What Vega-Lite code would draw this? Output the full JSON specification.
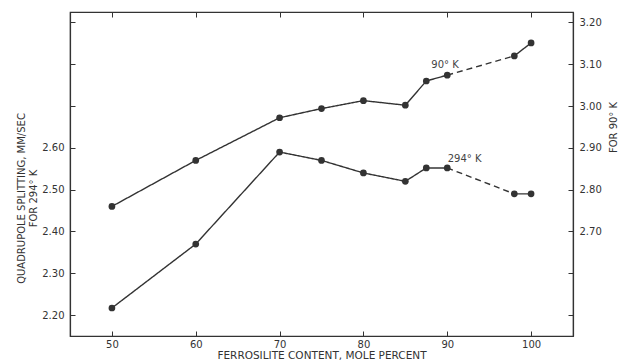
{
  "$schema": "https://vega.github.io/schema/vega-lite/v6.json",
  "width": 503,
  "height": 324,
  "autosize": "none",
  "padding": {"left": 70, "top": 12, "right": 48, "bottom": 28},
  "background": "white",
  "config": {
    "view": {"stroke": "#333", "strokeWidth": 1.2},
    "font": "DejaVu Sans",
    "axis": {
      "grid": false,
      "domainColor": "#333",
      "domainWidth": 1.2,
      "tickColor": "#333",
      "tickSize": -5,
      "tickWidth": 1,
      "labelFont": "DejaVu Sans",
      "labelFontSize": 10,
      "labelColor": "#333",
      "titleFont": "DejaVu Sans",
      "titleFontSize": 10,
      "titleFontWeight": "normal",
      "titleColor": "#333"
    }
  },
  "datasets": {
    "pts": [
      {"series": "294", "x": 50, "v": 2.217},
      {"series": "294", "x": 60, "v": 2.37},
      {"series": "294", "x": 70, "v": 2.59},
      {"series": "294", "x": 75, "v": 2.57},
      {"series": "294", "x": 80, "v": 2.54},
      {"series": "294", "x": 85, "v": 2.52},
      {"series": "294", "x": 87.5, "v": 2.552},
      {"series": "294", "x": 90, "v": 2.552},
      {"series": "294", "x": 98, "v": 2.49},
      {"series": "294", "x": 100, "v": 2.49},
      {"series": "90", "x": 50, "v": 2.76},
      {"series": "90", "x": 60, "v": 2.87},
      {"series": "90", "x": 70, "v": 2.972},
      {"series": "90", "x": 75, "v": 2.994},
      {"series": "90", "x": 80, "v": 3.013},
      {"series": "90", "x": 85, "v": 3.002},
      {"series": "90", "x": 87.5, "v": 3.06},
      {"series": "90", "x": 90, "v": 3.074},
      {"series": "90", "x": 98, "v": 3.12},
      {"series": "90", "x": 100, "v": 3.151}
    ],
    "segs": [
      {"series": "294", "seg": "a", "dash": "solid", "x": 50, "v": 2.217},
      {"series": "294", "seg": "a", "dash": "solid", "x": 60, "v": 2.37},
      {"series": "294", "seg": "a", "dash": "solid", "x": 70, "v": 2.59},
      {"series": "294", "seg": "a", "dash": "solid", "x": 75, "v": 2.57},
      {"series": "294", "seg": "a", "dash": "solid", "x": 80, "v": 2.54},
      {"series": "294", "seg": "a", "dash": "solid", "x": 85, "v": 2.52},
      {"series": "294", "seg": "a", "dash": "solid", "x": 87.5, "v": 2.552},
      {"series": "294", "seg": "a", "dash": "solid", "x": 90, "v": 2.552},
      {"series": "294", "seg": "b", "dash": "dashed", "x": 90, "v": 2.552},
      {"series": "294", "seg": "b", "dash": "dashed", "x": 98, "v": 2.49},
      {"series": "294", "seg": "c", "dash": "solid", "x": 98, "v": 2.49},
      {"series": "294", "seg": "c", "dash": "solid", "x": 100, "v": 2.49},
      {"series": "90", "seg": "a", "dash": "solid", "x": 50, "v": 2.76},
      {"series": "90", "seg": "a", "dash": "solid", "x": 60, "v": 2.87},
      {"series": "90", "seg": "a", "dash": "solid", "x": 70, "v": 2.972},
      {"series": "90", "seg": "a", "dash": "solid", "x": 75, "v": 2.994},
      {"series": "90", "seg": "a", "dash": "solid", "x": 80, "v": 3.013},
      {"series": "90", "seg": "a", "dash": "solid", "x": 85, "v": 3.002},
      {"series": "90", "seg": "a", "dash": "solid", "x": 87.5, "v": 3.06},
      {"series": "90", "seg": "a", "dash": "solid", "x": 90, "v": 3.074},
      {"series": "90", "seg": "b", "dash": "dashed", "x": 90, "v": 3.074},
      {"series": "90", "seg": "b", "dash": "dashed", "x": 98, "v": 3.12},
      {"series": "90", "seg": "c", "dash": "solid", "x": 98, "v": 3.12},
      {"series": "90", "seg": "c", "dash": "solid", "x": 100, "v": 3.151}
    ],
    "labels": [
      {"series": "294", "x": 90.05, "v": 2.574, "text": "294° K"},
      {"series": "90", "x": 88.1, "v": 3.099, "text": "90° K"}
    ]
  },
  "resolve": {"scale": {"y": "independent"}, "axis": {"x": "independent", "y": "independent"}},
  "layer": [
    {
      "encoding": {
        "x": {
          "field": "x", "type": "quantitative",
          "scale": {"domain": [45, 105], "nice": false, "zero": false},
          "axis": {"orient": "bottom", "values": [50, 60, 70, 80, 90, 100], "labelPadding": 8, "title": "FERROSILITE CONTENT, MOLE PERCENT", "titleFontSize": 10.5, "titlePadding": 1}
        },
        "y": {
          "field": "v", "type": "quantitative",
          "scale": {"domain": [2.15, 2.925], "nice": false, "zero": false},
          "axis": {
            "orient": "left",
            "values": [2.2, 2.3, 2.4, 2.5, 2.6, 2.7, 2.8, 2.9],
            "labelExpr": "datum.value < 2.65 ? format(datum.value, '.2f') : ''",
            "labelPadding": 11,
            "title": ["QUADRUPOLE SPLITTING, MM/SEC", "FOR 294° K"],
            "titleAngle": 270,
            "titleAlign": "center",
            "titleBaseline": "middle",
            "titleLineHeight": 12,
            "titleX": -49,
            "titleY": 186
          }
        }
      },
      "layer": [
        {
          "data": {"name": "segs"},
          "transform": [{"filter": "datum.series === '294'"}],
          "mark": {"type": "line", "color": "#333", "strokeWidth": 1.4},
          "encoding": {
            "detail": {"field": "seg"},
            "strokeDash": {"field": "dash", "type": "nominal", "scale": {"domain": ["solid", "dashed"], "range": [[1, 0], [6, 4]]}, "legend": null}
          }
        },
        {
          "data": {"name": "pts"},
          "transform": [{"filter": "datum.series === '294'"}],
          "mark": {"type": "circle", "size": 45, "color": "#333", "opacity": 1}
        },
        {
          "data": {"name": "labels"},
          "transform": [{"filter": "datum.series === '294'"}],
          "mark": {"type": "text", "align": "left", "baseline": "middle", "fontSize": 10, "color": "#444", "font": "DejaVu Sans"},
          "encoding": {"text": {"field": "text"}}
        }
      ]
    },
    {
      "encoding": {
        "x": {
          "field": "x", "type": "quantitative",
          "scale": {"domain": [45, 105], "nice": false, "zero": false},
          "axis": {"orient": "top", "values": [50, 60, 70, 80, 90, 100], "labels": false, "title": null}
        },
        "y": {
          "field": "v", "type": "quantitative",
          "scale": {"domain": [2.45, 3.225], "nice": false, "zero": false},
          "axis": {
            "orient": "right",
            "values": [2.5, 2.6, 2.7, 2.8, 2.9, 3.0, 3.1, 3.2],
            "labelExpr": "datum.value > 2.65 ? format(datum.value, '.2f') : ''",
            "labelPadding": 11,
            "title": "FOR 90° K",
            "titleAngle": 270,
            "titleAlign": "center",
            "titleBaseline": "middle",
            "titleX": 40,
            "titleY": 115
          }
        }
      },
      "layer": [
        {
          "data": {"name": "segs"},
          "transform": [{"filter": "datum.series === '90'"}],
          "mark": {"type": "line", "color": "#333", "strokeWidth": 1.4},
          "encoding": {
            "detail": {"field": "seg"},
            "strokeDash": {"field": "dash", "type": "nominal", "scale": {"domain": ["solid", "dashed"], "range": [[1, 0], [6, 4]]}, "legend": null}
          }
        },
        {
          "data": {"name": "pts"},
          "transform": [{"filter": "datum.series === '90'"}],
          "mark": {"type": "circle", "size": 45, "color": "#333", "opacity": 1}
        },
        {
          "data": {"name": "labels"},
          "transform": [{"filter": "datum.series === '90'"}],
          "mark": {"type": "text", "align": "left", "baseline": "middle", "fontSize": 10, "color": "#444", "font": "DejaVu Sans"},
          "encoding": {"text": {"field": "text"}}
        }
      ]
    }
  ]
}
